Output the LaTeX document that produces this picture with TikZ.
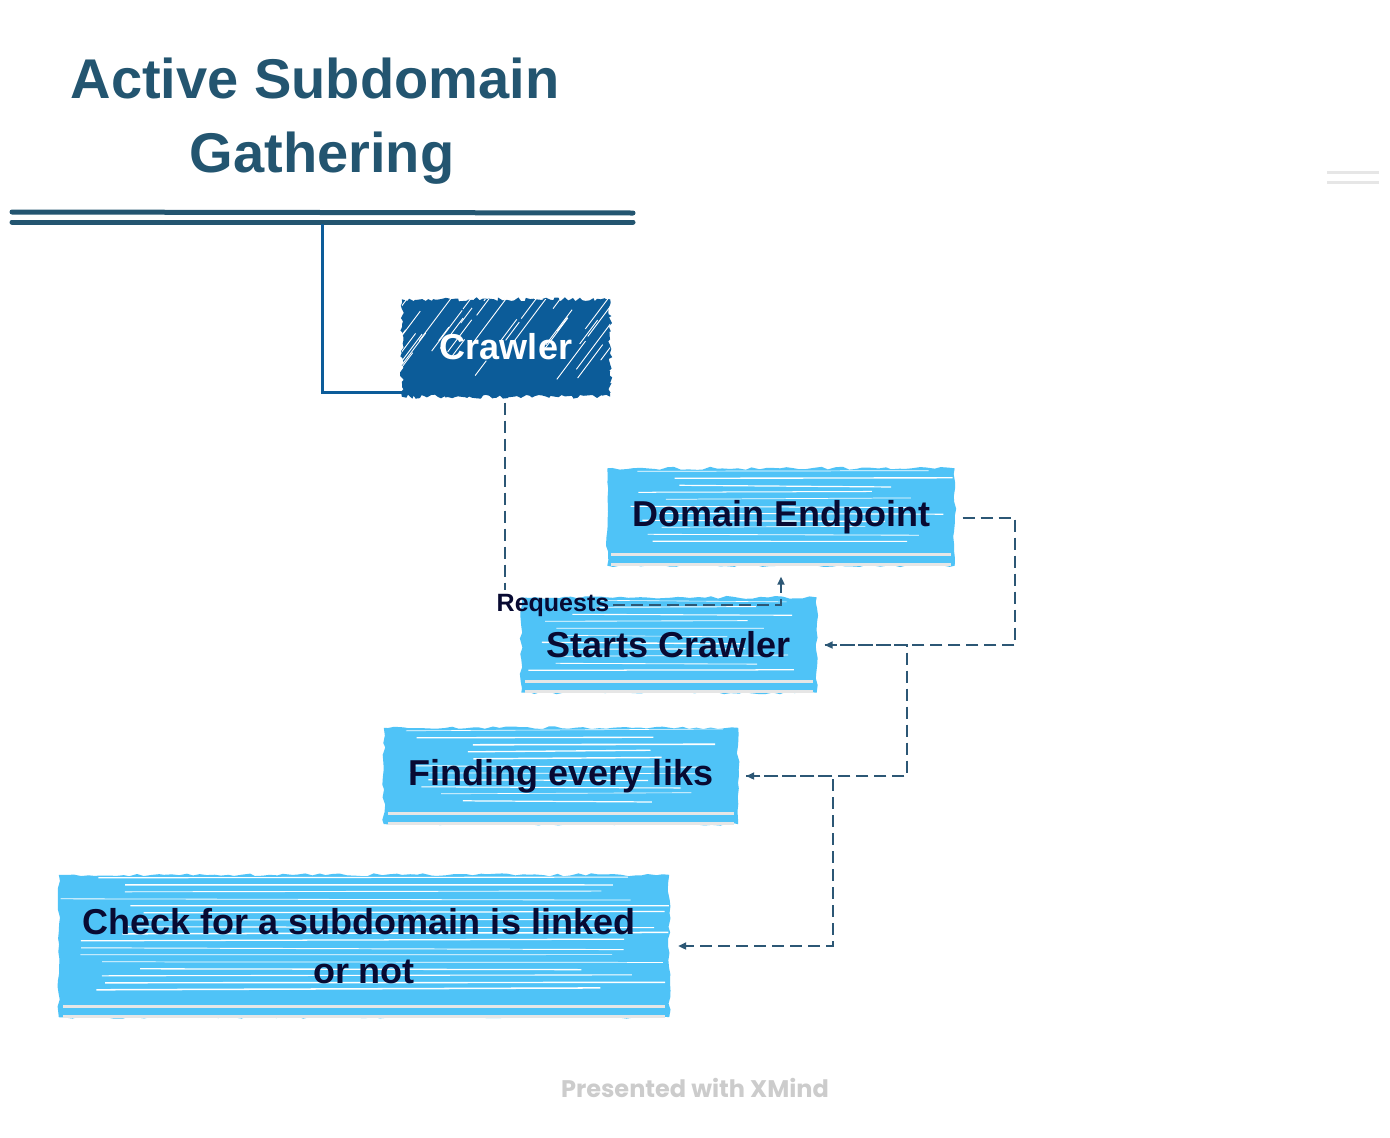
\documentclass[tikz,border=0pt]{standalone}
\usepackage{fontspec}
\setmainfont{Liberation Sans}
\newfontfamily\poppins{Poppins}
\usetikzlibrary{calc,arrows.meta,decorations.pathmorphing,backgrounds}
\definecolor{titlec}{RGB}{35,85,112}
\definecolor{crawc}{RGB}{12,92,153}
\definecolor{lblue}{RGB}{79,195,247}
\definecolor{navy}{RGB}{8,10,50}
\definecolor{conc}{RGB}{44,87,117}
\definecolor{stripec}{RGB}{230,230,230}
\definecolor{xm}{RGB}{204,204,204}
\tikzset{
  sketchbox/.style={inner sep=0pt, align=center, text=navy,
    font=\bfseries\fontsize{36}{49}\selectfont},
  dconn/.style={draw=conc, line width=2pt, dash pattern=on 12pt off 6pt,
    -{Triangle[length=8pt,width=7pt]}},
}
\newcommand\sketchfill[2]{%
  \begin{scope}[on background layer]
    \fill[lblue, decorate, decoration={random steps,segment length=7pt,amplitude=1.5pt}]
      ($(#1.north west)+(0,1)$) rectangle ($(#1.south east)+(0,-1)$);
    \pgfmathtruncatemacro\yend{#2-22}
    \foreach \yy in {4,11,...,\yend}{
      \pgfmathsetmacro\xa{rnd*90}
      \pgfmathsetmacro\xb{rnd*90}
      \pgfmathsetmacro\dy{rnd*4-2}
      \pgfmathsetmacro\lw{0.6+rnd*1.0}
      \draw[white, line width=\lw pt] ($(#1.north west)+(\xa,\yy)$) -- ($(#1.north east)+(-\xb,\yy+\dy)$);
    }
    \draw[stripec, line width=3pt] ($(#1.south west)+(4,-12)$) -- ($(#1.south east)+(-4,-12)$);
    \draw[stripec, line width=3pt] ($(#1.south west)+(4,-2)$) -- ($(#1.south east)+(-4,-2)$);
  \end{scope}}
\begin{document}
\begin{tikzpicture}[x=1pt,y=-1pt]
\pgfmathsetseed{7}
\useasboundingbox (0,0) rectangle (1390,1138);
\begin{scope}[on background layer]
  \fill[white] (0,0) rectangle (1390,1138);
\end{scope}

% title
\node[anchor=base, text=titlec, font=\bfseries\fontsize{56}{60}\selectfont, inner sep=0pt] (title1) at (315,98) {Active Subdomain};
\node[anchor=base, text=titlec, font=\bfseries\fontsize{56}{60}\selectfont, inner sep=0pt] (title2) at (322,172) {Gathering};
\draw[titlec, line width=5pt, line cap=round] (12,212) -- (633,213);
\draw[titlec, line width=5pt, line cap=round] (12,222) -- (633,222);
\coordinate (titlebase) at (322,224);

% right decoration
\draw[stripec, line width=3pt] (1327,172) -- (1379,172);
\draw[stripec, line width=3pt] (1327,182) -- (1379,182);

% crawler
\node[inner sep=0pt, minimum width=208, minimum height=97, text=white,
  font=\bfseries\fontsize{36}{40}\selectfont] (crawler) at (506,348) {\raisebox{3pt}{Crawler}};
\begin{scope}[on background layer]
  \fill[crawc, decorate, decoration={random steps,segment length=3pt,amplitude=2pt}]
    (crawler.north west) rectangle (crawler.south east);
  \begin{scope}
    \clip (crawler.north west) rectangle (crawler.south east);
    \foreach \i in {1,...,36}{
      \pgfmathsetmacro\sx{rnd*250-40}
      \pgfmathsetmacro\sy{rnd*97}
      \pgfmathsetmacro\ll{15+rnd*55}
      \draw[white, line width=0.9pt] ($(crawler.north west)+(\sx,\sy)$) -- ++(0.6*\ll,-0.8*\ll);
    }
  \end{scope}
\end{scope}
\draw[crawc, line width=3pt] (titlebase) |- ($(crawler.south west)+(10,-4)$);

% boxes
\node[sketchbox, minimum width=347, minimum height=99] (dom) at (781,517) {Domain Endpoint};
\sketchfill{dom}{99}
\node[sketchbox, minimum width=295, minimum height=97] (starts) at (669,645) {Starts Crawler};
\sketchfill{starts}{97}
\node[sketchbox, minimum width=354, minimum height=98] (find) at (561,776) {Finding every liks};
\sketchfill{find}{98}
\node[sketchbox, minimum width=610, minimum height=144] (check) at (364,946) {\hspace*{-10pt}Check for a subdomain is linked\\or not};
\sketchfill{check}{144}

% requests label and connectors
\node[font=\bfseries\fontsize{25}{28}\selectfont, text=navy, inner sep=2pt] (req) at (553,605) {Requests};
\draw[dconn, -] ($(crawler.south)+(-1,6)$) -- ($(crawler.south |- req.north)+(-1,-2)$);
\draw[dconn] ($(req.east)+(2,0)$) -| ($(dom.south)+(0,10)$);
\draw[dconn] ($(dom.east)+(8,1)$) -- (1015,518) |- ($(starts.east)+(8,0)$);
\draw[dconn] ($(starts.east)+(8,0)$) -- (907,645) |- ($(find.east)+(8,0)$);
\draw[dconn] ($(find.east)+(8,0)$) -- (833,776) |- ($(check.east)+(9,0)$);

% footer
\node[font=\poppins\bfseries\fontsize{24}{27}\selectfont, text=xm] (xmind) at (695,1088) {Presented with XMind};
\end{tikzpicture}
\end{document}
